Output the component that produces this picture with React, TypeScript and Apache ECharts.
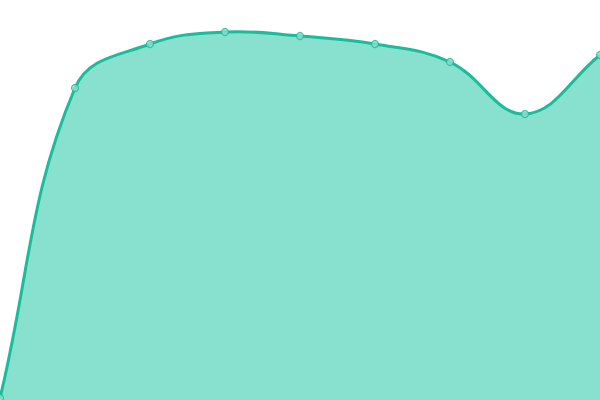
import * as echarts from "echarts";
import React, { useEffect, useRef } from "react";

const categories = ["1", "2", "3", "4", "5", "6", "7", "8", "9"];
const values = [2, 312, 356, 368, 364, 356, 338, 286, 345];

const TENSION = 0.4;

// spline control points, cardinal style (each point gets a previous/next control point)
const controlPoints = (pts: number[][], t: number) => {
  return pts.map((cur, i) => {
    const prev = pts[Math.max(i - 1, 0)];
    const next = pts[Math.min(i + 1, pts.length - 1)];
    const d01 = Math.hypot(cur[0] - prev[0], cur[1] - prev[1]);
    const d12 = Math.hypot(next[0] - cur[0], next[1] - cur[1]);
    const sum = d01 + d12 || 1;
    const fa = (t * d01) / sum;
    const fb = (t * d12) / sum;
    return {
      prev: [cur[0] - fa * (next[0] - prev[0]), cur[1] - fa * (next[1] - prev[1])],
      next: [cur[0] + fb * (next[0] - prev[0]), cur[1] + fb * (next[1] - prev[1])],
    };
  });
};

const AreaChart: React.FC = () => {
  const chartRef = useRef<HTMLDivElement | null>(null);

  useEffect(() => {
    const chart = echarts.init(chartRef.current, undefined, { renderer: "svg" });
    chart.setOption({
      animation: false,
      grid: { left: 0, right: 0, top: 0, bottom: 0 },
      xAxis: {
        type: "category",
        boundaryGap: false,
        data: categories,
        show: false,
      },
      yAxis: {
        type: "value",
        min: 0,
        max: 400,
        show: false,
      },
      series: [
        {
          type: "custom",
          silent: true,
          data: [[0, 0]],
          renderItem: (params: any, api: any) => {
            const pts = values.map((v, i) => api.coord([i, v]));
            const cps = controlPoints(pts, TENSION);
            let d = `M${pts[0][0]},${pts[0][1]}`;
            for (let i = 1; i < pts.length; i++) {
              const a = cps[i - 1].next;
              const b = cps[i].prev;
              d += ` C${a[0]},${a[1]} ${b[0]},${b[1]} ${pts[i][0]},${pts[i][1]}`;
            }
            const base = api.coord([0, 0])[1];
            const last = pts[pts.length - 1];
            const fill = `${d} L${last[0]},${base} L${pts[0][0]},${base} Z`;
            return {
              type: "group",
              children: [
                { type: "path", shape: { pathData: fill }, style: { fill: "#88e0cf" } },
                {
                  type: "path",
                  shape: { pathData: d },
                  style: { fill: "none", stroke: "#1abc9c", lineWidth: 3 },
                },
              ],
            };
          },
        },
        {
          type: "scatter",
          data: values,
          symbol: "circle",
          symbolSize: 7,
          silent: true,
          itemStyle: { color: "#8be0d0", borderColor: "#1fb896", borderWidth: 1.2 },
        },
      ],
    });
    return () => {
      chart.dispose();
    };
  }, []);

  return (
    <div
      ref={chartRef}
      style={{ position: "fixed", left: 0, top: 0, width: "600px", height: "400px" }}
    ></div>
  );
};

export default function App() {
  return <AreaChart />;
}
